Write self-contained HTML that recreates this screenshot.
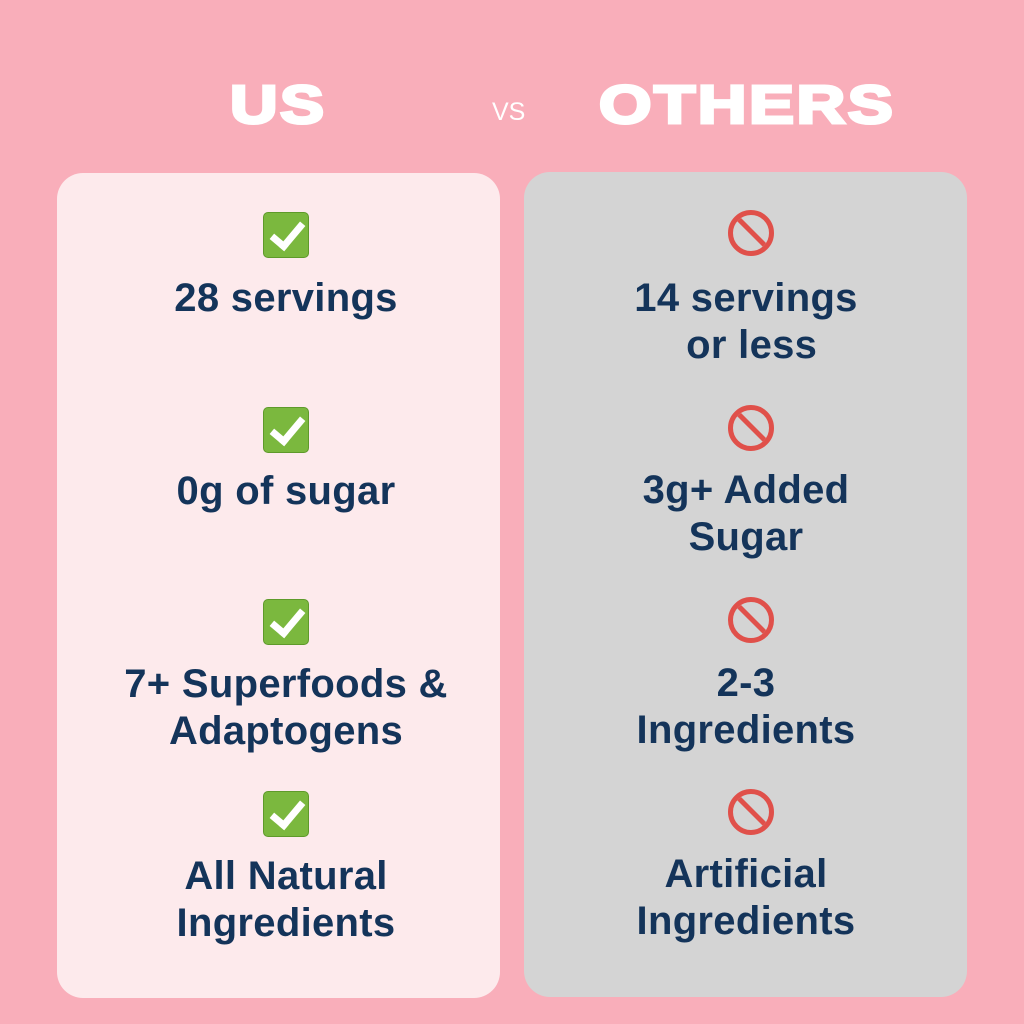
<!DOCTYPE html>
<html><head><style>
body{margin:0;width:1024px;height:1024px;background:#F9AEBA;position:relative;overflow:hidden;font-family:"Liberation Sans",sans-serif}
.p{position:absolute;border-radius:26px}
.t{position:absolute;width:440px;text-align:center;color:#14345A;font-weight:bold;font-size:40px;line-height:47px;letter-spacing:0.3px}
.ck{position:absolute;width:44px;height:44px;background:#7BB83E;border-radius:5px;border:1px solid #5E9A2A}
.ck:after{content:"";position:absolute;left:14px;top:3px;width:12px;height:26px;border:solid #fff;border-width:0 7px 7px 0;transform:rotate(40deg)}
.no{position:absolute;width:36px;height:36px;border:5px solid #E0504A;border-radius:50%;overflow:hidden}
.no:after{content:"";position:absolute;left:-4px;top:15px;width:46px;height:5px;background:#E0504A;transform:rotate(45deg)}
.h{position:absolute;color:#fff;font-weight:900;font-size:54px;top:74px;letter-spacing:2px;-webkit-text-stroke:3px #fff}
</style></head><body>
<div class="h" style="left:230px;transform:scaleX(1.22);transform-origin:left">US</div>
<div style="position:absolute;left:492px;top:98px;color:#fff;font-size:25px">VS</div>
<div class="h" style="left:599px;transform:scaleX(1.25);transform-origin:left">OTHERS</div>
<div class="p" style="left:57px;top:173px;width:443px;height:825px;background:#FDEAEC"></div>
<div class="p" style="left:524px;top:172px;width:443px;height:825px;background:#D4D4D4"></div>

<div class="ck" style="left:263px;top:212px"></div>
<div class="t" style="left:66px;top:275px">28 servings</div>
<div class="ck" style="left:263px;top:407px"></div>
<div class="t" style="left:66px;top:468px">0g of sugar</div>
<div class="ck" style="left:263px;top:599px"></div>
<div class="t" style="left:66px;top:661px">7+ Superfoods &amp;<br>Adaptogens</div>
<div class="ck" style="left:263px;top:791px"></div>
<div class="t" style="left:66px;top:853px">All Natural<br>Ingredients</div>

<div class="no" style="left:728px;top:210px"></div>
<div class="t" style="left:526px;top:275px">14 servings<br>&nbsp;or less</div>
<div class="no" style="left:728px;top:405px"></div>
<div class="t" style="left:526px;top:467px">3g+ Added<br>Sugar</div>
<div class="no" style="left:728px;top:597px"></div>
<div class="t" style="left:526px;top:660px">2-3<br>Ingredients</div>
<div class="no" style="left:728px;top:789px"></div>
<div class="t" style="left:526px;top:851px">Artificial<br>Ingredients</div>
</body></html>
